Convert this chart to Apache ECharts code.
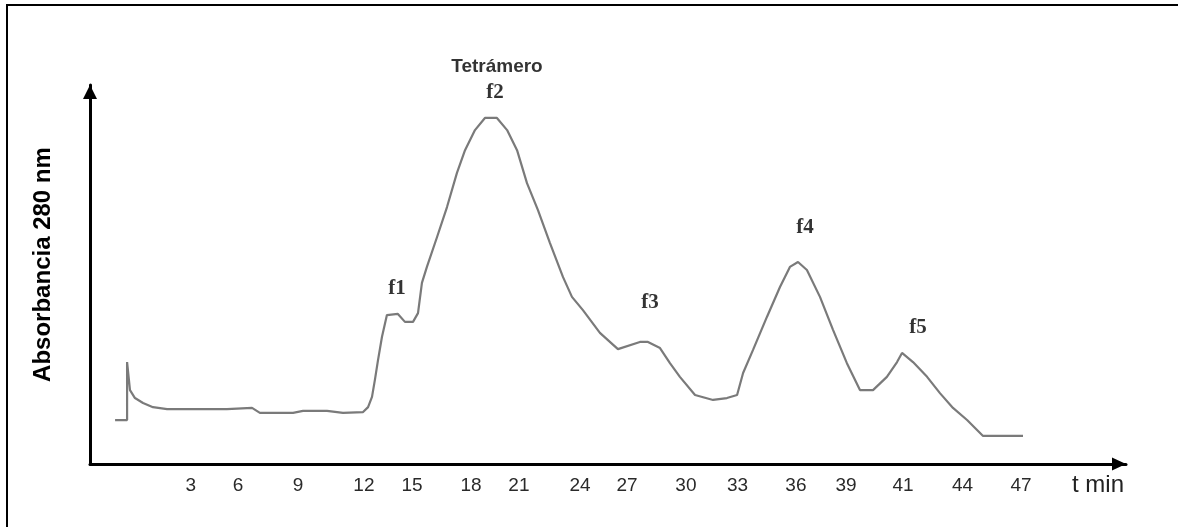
<!DOCTYPE html>
<html>
<head>
<meta charset="utf-8">
<script src="https://cdn.jsdelivr.net/npm/echarts@6/dist/echarts.min.js"></script>
<style>
html,body{margin:0;padding:0;background:#fff;}
#chart{position:absolute;left:0;top:0;width:1178px;height:527px;}
#frame{position:absolute;left:6px;top:4px;width:1172px;height:523px;border-top:2px solid #000;border-left:2px solid #000;pointer-events:none;box-sizing:border-box;}
</style>
</head>
<body>
<div id="chart"></div>
<div id="frame"></div>
<script>
// x positions along the time axis (axis units) and absorbance (relative units)
const timePos = [1.21,1.79,1.79,1.93,2.17,2.56,3.04,3.72,4.97,6.61,7.82,8.20,9.80,10.28,11.44,12.21,13.18,13.42,13.61,13.75,13.90,14.09,14.33,14.86,15.20,15.59,15.83,16.02,16.26,16.75,17.23,17.71,18.10,18.58,19.06,19.64,20.13,20.61,21.09,21.62,22.20,22.83,23.26,23.79,24.61,25.48,26.54,26.93,27.51,27.99,28.47,29.20,30.07,30.74,31.23,31.52,32.00,32.67,33.30,33.78,34.17,34.60,35.23,35.86,36.53,37.16,37.79,38.46,38.95,39.19,39.72,40.40,41.02,41.65,42.33,43.10,45.03];
const absorbance = [11.6,11.6,26.9,19.5,17.4,16.1,15.0,14.5,14.5,14.5,14.8,13.5,13.5,14.0,14.0,13.5,13.7,15.0,17.7,22.2,27.4,33.5,39.3,39.6,37.5,37.5,39.8,47.8,52.0,59.9,67.8,76.8,82.8,88.1,91.3,91.3,88.1,82.8,74.1,67.0,58.3,49.3,44.1,40.6,34.6,30.3,32.2,32.2,30.6,26.6,23.0,18.2,16.9,17.4,18.2,24.0,30.1,38.8,46.7,52.0,53.3,51.2,44.1,35.4,26.6,19.5,19.5,23.0,26.9,29.3,26.9,23.0,18.7,14.8,11.6,7.4,7.4];

// tick labels of the time axis and where they sit on it
const tickLabels = ['3','6','9','12','15','18','21','24','27','30','33','36','39','41','44','47'];
const tickPos = [4.87,7.14,10.04,13.22,15.54,18.39,20.70,23.65,25.92,28.76,31.25,34.07,36.49,39.24,42.11,44.93];

// peak annotations
const peakNames = ['f1','f2','f3','f4','f5'];
const peakPos = [14.82,19.55,27.03,34.51,39.96];
const peakAbs = [46.4,97.9,42.5,62.3,36.1];
const titleName = ['Tetrámero'];
const titlePos = [19.64];
const titleAbs = [104.7];

const lineData = timePos.map((t,i)=>[t, absorbance[i]]);
const peakData = peakNames.map((n,i)=>({name:n, value:[peakPos[i], peakAbs[i]]}));
const titleData = titleName.map((n,i)=>({name:n, value:[titlePos[i], titleAbs[i]]}));

const chart = echarts.init(document.getElementById('chart'), null, {renderer:'canvas'});
chart.setOption({
  backgroundColor: '#fff',
  animation: false,
  grid: {left: 90, right: 52, top: 85, bottom: 63, containLabel: false},
  xAxis: {
    type: 'value', min: 0, max: 50,
    name: 't min', nameLocation: 'end', nameGap: -2,
    nameTextStyle: {fontFamily: 'Liberation Sans', fontSize: 24, color: '#222', align: 'right', verticalAlign: 'top', padding: [9,0,0,0]},
    axisLine: {show: true, lineStyle: {color: '#000', width: 3}, symbol: ['none','triangle'], symbolSize: [13,14], symbolOffset: [0,-7]},
    axisTick: {show: false},
    splitLine: {show: false},
    axisLabel: {
      show: true, customValues: tickPos, margin: 12,
      fontFamily: 'Liberation Sans', fontSize: 19, color: '#2a2a2a',
      formatter: function(v){ const i = tickPos.indexOf(v); return i >= 0 ? tickLabels[i] : ''; }
    }
  },
  yAxis: {
    type: 'value', min: 0, max: 100,
    name: 'Absorbancia 280 nm', nameLocation: 'middle', nameGap: 35, nameRotate: 90,
    nameTextStyle: {fontFamily: 'Liberation Sans', fontWeight: 'bold', fontSize: 24, color: '#000', padding: [0,0,0,20]},
    axisLine: {show: true, lineStyle: {color: '#000', width: 3}, symbol: ['none','triangle'], symbolSize: [14,14], symbolOffset: [0,-7]},
    axisTick: {show: false},
    splitLine: {show: false},
    axisLabel: {show: false}
  },
  series: [
    {
      type: 'line', data: lineData, showSymbol: false, symbol: 'none',
      lineStyle: {color: '#7a7a7a', width: 2.2}, z: 3
    },
    {
      type: 'scatter', data: peakData, symbolSize: 1, clip: false,
      itemStyle: {color: 'rgba(0,0,0,0)'},
      label: {show: true, position: 'inside', formatter: '{b}', fontFamily: 'Liberation Serif', fontWeight: 'bold', fontSize: 21, color: '#000'}
    },
    {
      type: 'scatter', data: titleData, symbolSize: 1, clip: false,
      itemStyle: {color: 'rgba(0,0,0,0)'},
      label: {show: true, position: 'inside', formatter: '{b}', fontFamily: 'Liberation Sans', fontWeight: 'bold', fontSize: 19, color: '#000'}
    }
  ]
});
</script>
</body>
</html>
